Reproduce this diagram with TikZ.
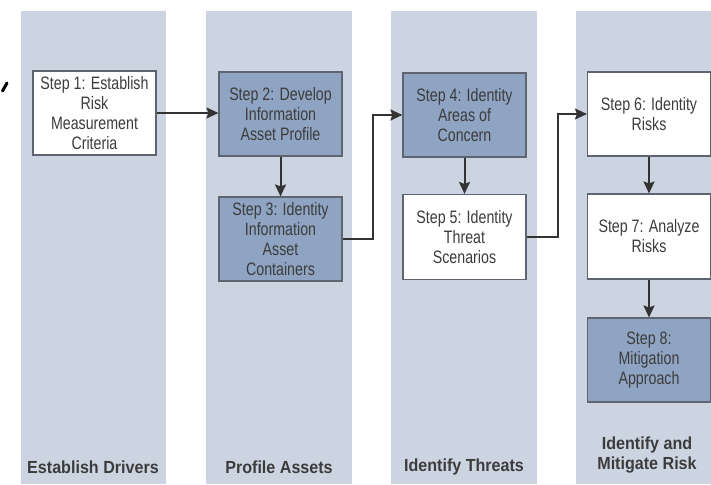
\documentclass[tikz,border=0pt]{standalone}
\usepackage{fontspec}
\setmainfont{Liberation Sans}
\newfontfamily\narrowsans[FakeStretch=0.79]{Liberation Sans}
\newfontfamily\titlesans[FakeStretch=0.92]{Liberation Sans}
\usetikzlibrary{arrows.meta}
\definecolor{lanebg}{HTML}{CDD4E1}
\definecolor{darkbox}{HTML}{8FA4C2}
\definecolor{boxline}{HTML}{5E6570}
\definecolor{ink}{HTML}{3C3C3C}
\definecolor{arrowink}{HTML}{333333}
\tikzset{
  lane/.style={fill=lanebg, draw=none},
  stepbox/.style={draw=boxline, line width=1.1pt, text=ink, align=center,
    minimum width=123pt, inner sep=0pt,
    font=\narrowsans\fontsize{18}{20}\selectfont},
  whitebox/.style={stepbox, fill=white},
  bluebox/.style={stepbox, fill=darkbox},
  lanelabel/.style={text=ink, align=center, font=\titlesans\bfseries\fontsize{17.5}{20}\selectfont},
  flow/.style={draw=arrowink, line width=2pt,
    -{Stealth[length=12pt, width=11pt, inset=2pt]}},
}
\begin{document}
\begin{tikzpicture}[x=1pt, y=-1pt]
  \useasboundingbox (0,0) rectangle (711,484);
  \clip (0,0) rectangle (711,484);
  \fill[white] (0,0) rectangle (711,484);

  % four swim lanes
  \path[lane] (21,11) rectangle (166,484);
  \path[lane] (206,11) rectangle (352,484);
  \path[lane] (391,11) rectangle (537,484);
  \path[lane] (576,11) rectangle (722,484);

  % stray pen stroke on the left margin
  \draw[black, line width=3pt, line cap=round] (2.5,91) -- (7,83);

  % steps
  \node[whitebox, minimum height=84pt] (s1) at (94.5,113) {Step 1: Establish\\Risk\\Measurement\\Criteria};
  \node[bluebox, minimum height=84pt] (s2) at (280.5,114) {Step 2: Develop\\Information\\Asset Profile};
  \node[bluebox, minimum height=84pt] (s3) at (280.5,239) {Step 3: Identity\\Information\\Asset\\Containers};
  \node[bluebox, minimum height=84pt] (s4) at (464.5,115) {Step 4: Identity\\Areas of\\Concern};
  \node[whitebox, minimum height=85pt] (s5) at (464.5,237) {Step 5: Identity\\Threat\\Scenarios};
  \node[whitebox, minimum height=84pt] (s6) at (649,114) {Step 6: Identity\\Risks};
  \node[whitebox, minimum height=85pt] (s7) at (649,236.5) {Step 7: Analyze\\Risks};
  \node[bluebox, minimum height=84pt] (s8) at (649,360) {Step 8:\\Mitigation\\Approach};

  % lane titles
  \node[lanelabel] (l1) at (93,467) {Establish Drivers};
  \node[lanelabel] (l2) at (279,467) {Profile Assets};
  \node[lanelabel] (l3) at (464,467) {Identify Threats};
  \node[lanelabel] (l4) at (647,455) {Identify and\\Mitigate Risk};

  % flow between steps
  \draw[flow] (s1.east) -- (s1.east -| s2.west);
  \draw[flow] (s2.south) -- (s3.north);
  \draw[flow] (s3.east) -- ++(30,0) |- (s4.west);
  \draw[flow] (s4.south) -- (s5.north);
  \draw[flow] (s5.east) -- ++(31,0) |- (s6.west);
  \draw[flow] (s6.south) -- (s7.north);
  \draw[flow] (s7.south) -- (s8.north);
\end{tikzpicture}
\end{document}
